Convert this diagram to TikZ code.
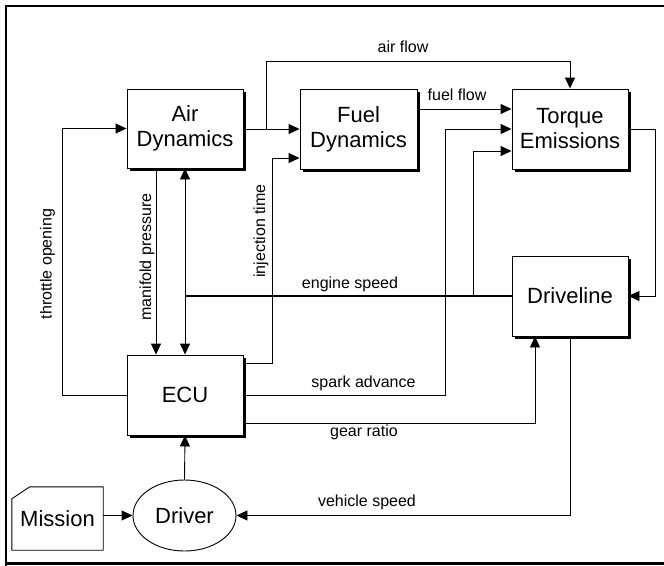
\documentclass[tikz,border=0pt]{standalone}
\usepackage{fontspec}
\setmainfont{Liberation Sans}
\usetikzlibrary{arrows.meta,shapes.geometric,calc,backgrounds}
\begin{document}
\begin{tikzpicture}[x=1pt,y=-1pt,
  blk/.style={draw, fill=white, line width=0.9pt, align=center,
    minimum width=116pt, minimum height=79pt, inner sep=0pt,
    font=\fontsize{22}{25}\selectfont},
  arr/.style={draw, line width=0.9pt, -{Triangle[length=11pt,width=10pt]}},
  lbl/.style={font=\fontsize{16}{18}\selectfont, inner sep=0pt}]
\useasboundingbox (0,0) rectangle (664,565);
% frame
\draw[line width=2.4pt] (6,700) -- (6,6) -- (700,6);
\draw[line width=2.4pt] (6,563.5) -- (700,563.5);
% box shadows (drawn first, behind the boxes)
\foreach \cx/\cy/\w/\h in {185/128.5/116/79, 358.5/129/117/80, 570/129/116/80, 570/296/116/80, 185/395/116/80}
  \fill ({\cx-\w/2+2.6},{\cy-\h/2+2.6}) rectangle ({\cx+\w/2+2.6},{\cy+\h/2+2.6});
% nodes
\node[blk] (air) at (185,128.5) {Air\\Dynamics};
\node[blk, minimum width=117pt, minimum height=80pt] (fuel) at (358.5,129) {Fuel\\Dynamics};
\node[blk, minimum height=80pt] (torque) at (570,129) {Torque\\Emissions};
\node[blk, minimum height=80pt] (drive) at (570,296) {Driveline};
\node[blk, minimum height=80pt] (ecu) at (185,395) {ECU};
\node[draw, ellipse, line width=0.9pt, minimum width=103pt, minimum height=71pt, inner sep=0pt,
  font=\fontsize{22}{25}\selectfont] (driver) at (184.5,515.5) {Driver};
\node[minimum width=91pt, minimum height=63pt, inner sep=0pt,
  font=\fontsize{22}{25}\selectfont] (mission) at (57.5,518.5) {Mission};
\draw[line width=0.9pt] (mission.south west) -- ($(mission.north west)+(0,12)$)
  -- ($(mission.north west)+(18,0)$) -- (mission.north east) -- (mission.south east) -- cycle;
% coordinates
\coordinate (es) at (185,296);
\coordinate (esb) at (473,296);
\coordinate (af) at (266,129);
% connectors
\draw[arr] (ecu.west) -- ++(-64,0) |- (air.west);
\draw[arr] ($(air.south)+(-29,0)$) -- ($(ecu.north)+(-29,0)$);
\draw[line width=1.7pt] (drive.west) -- (es);
\draw[arr] (es) -- (air.south);
\draw[arr] (es) -- (ecu.north);
\draw[arr] (esb) |- ($(torque.west)+(0,22)$);
\draw[arr] ($(ecu.north east)+(0,9)$) -| (272,158) -- ($(fuel.west)+(0,29)$);
\draw[arr] (air.east |- af) -- (fuel.west |- af);
\draw[arr] (af) |- (570,61) -- (torque.north);
\draw[arr] ($(fuel.east)+(0,-20)$) -- ($(torque.west)+(0,-20)$);
\draw[arr] (ecu.east) -| (445,129) -- (torque.west);
\draw[arr] ($(ecu.east)+(0,28)$) -| ($(drive.south)+(-35,0)$);
\draw[arr] (torque.east) -- ++(27,0) |- (drive.east);
\draw[arr] (drive.south) |- (driver.east);
\draw[arr] (mission.east |- driver.west) -- (driver.west);
\draw[arr] (driver.north) -- (ecu.south);
% labels
\node[lbl] (l1) at (403,47) {air flow};
\node[lbl] (l2) at (457,95) {fuel flow};
\node[lbl] (l3) at (350,284) {engine speed};
\node[lbl] (l4) at (363.5,383) {spark advance};
\node[lbl] (l5) at (364,432) {gear ratio};
\node[lbl] (l6) at (367,502) {vehicle speed};
\node[lbl, rotate=90] (l7) at (47.5,264) {throttle opening};
\node[lbl, rotate=90] (l8) at (147,257) {manifold pressure};
\node[lbl, rotate=90] (l9) at (261,231) {injection time};
\end{tikzpicture}
\end{document}
